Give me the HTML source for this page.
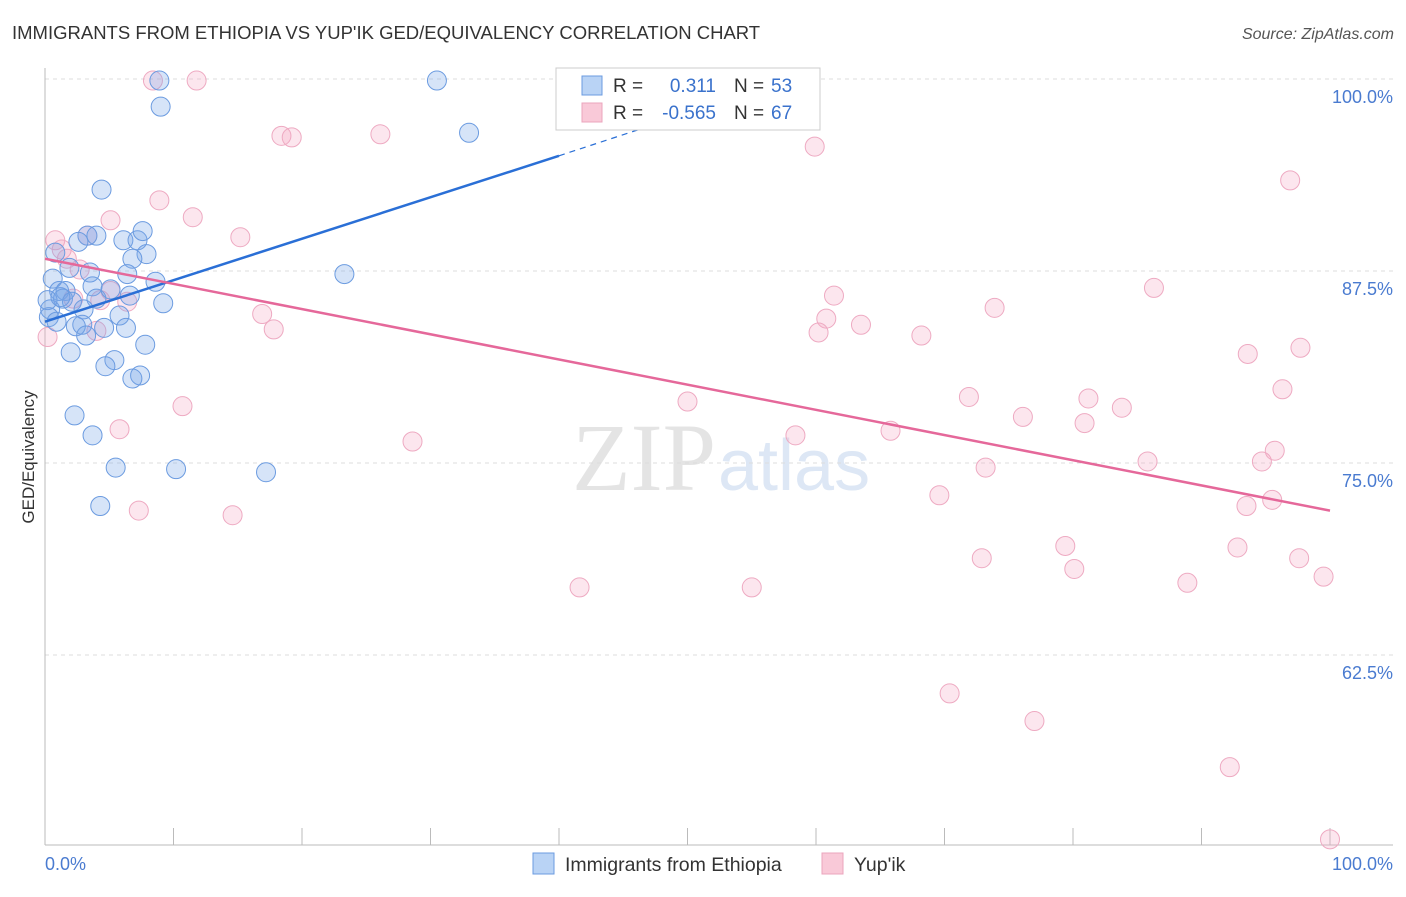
<!DOCTYPE html>
<html><head><meta charset="utf-8"><style>
body{margin:0;background:#fff;font-family:"Liberation Sans",sans-serif;}
</style></head><body>
<svg width="1406" height="892" xmlns="http://www.w3.org/2000/svg" id="svg" font-family="Liberation Sans, sans-serif">
<text x="12" y="39" font-size="18.5" fill="#333">IMMIGRANTS FROM ETHIOPIA VS YUP'IK GED/EQUIVALENCY CORRELATION CHART</text>
<text x="1394" y="39" font-size="16" fill="#555" text-anchor="end" font-style="italic">Source: ZipAtlas.com</text>
<text x="716" y="490" font-size="96" fill="#e4e4e4" text-anchor="end" font-family="Liberation Serif, serif">ZIP</text>
<text x="718" y="490" font-size="72" fill="#dde7f5">atlas</text>
<text transform="translate(34,457) rotate(-90)" font-size="17" fill="#333" text-anchor="middle">GED/Equivalency</text>
<g id="grid"></g><g id="pts"></g><g id="lines"></g>
<g>
<rect x="556" y="68" width="264" height="62" fill="#fff" stroke="#ccc"/>
<rect x="582" y="76" width="20" height="19" fill="#b9d3f5" stroke="#6b9be0"/>
<rect x="582" y="103" width="20" height="19" fill="#f9c9d8" stroke="#eba5bd"/>
<text x="613" y="92" font-size="19" fill="#333">R =</text><text x="716" y="92" font-size="19" fill="#3a72cc" text-anchor="end">0.311</text>
<text x="734" y="92" font-size="19" fill="#333">N =</text><text x="771" y="92" font-size="19" fill="#3a72cc">53</text>
<text x="613" y="119" font-size="19" fill="#333">R =</text><text x="716" y="119" font-size="19" fill="#3a72cc" text-anchor="end">-0.565</text>
<text x="734" y="119" font-size="19" fill="#333">N =</text><text x="771" y="119" font-size="19" fill="#3a72cc">67</text>
</g>
<g>
<rect x="533" y="853" width="21" height="21" fill="#b9d3f5" stroke="#6b9be0"/>
<text x="565" y="871" font-size="19.5" fill="#333">Immigrants from Ethiopia</text>
<rect x="822" y="853" width="21" height="21" fill="#f9c9d8" stroke="#eba5bd"/>
<text x="854" y="871" font-size="19.5" fill="#333">Yup'ik</text>
</g>
</svg>
<script>
const yTicks=[100,87.5,75,62.5];
const yTickLabels=["100.0%","87.5%","75.0%","62.5%"];
const xTickLabels=["0.0%","100.0%"];
const blueX=[8.9,30.5,9.0,33.0,4.4,3.3,4.0,2.6,6.1,7.2,7.6,7.9,0.8,6.8,1.9,3.5,6.4,23.3,0.6,8.6,3.7,1.1,1.6,6.6,1.4,2.1,4.0,9.2,3.0,0.4,5.8,2.9,2.4,4.6,6.3,3.2,7.8,2.0,5.4,4.7,7.4,6.8,2.3,3.7,5.5,10.2,17.2,4.3,0.2,0.3,1.2,5.1,0.9];
const blueY=[99.9,99.9,98.2,96.5,92.8,89.8,89.8,89.4,89.5,89.5,90.1,88.6,88.7,88.3,87.7,87.4,87.3,87.3,87.0,86.8,86.5,86.2,86.2,85.9,85.7,85.5,85.7,85.4,85.0,85.0,84.6,84.0,83.9,83.8,83.8,83.3,82.7,82.2,81.7,81.3,80.7,80.5,78.1,76.8,74.7,74.6,74.4,72.2,85.6,84.5,85.8,86.3,84.2];
const pinkX=[8.4,11.8,18.4,19.2,26.1,59.9,96.9,8.9,11.5,5.1,15.2,0.8,1.3,1.7,3.3,2.7,5.1,4.3,6.4,2.2,16.9,17.8,4.0,0.2,61.4,60.8,60.2,63.5,73.9,68.2,86.3,93.6,97.7,96.3,10.7,5.8,28.6,50.0,58.4,65.8,71.9,76.1,81.2,80.9,83.8,85.8,94.7,95.7,73.2,69.6,93.5,95.5,7.3,14.6,41.6,55.0,72.9,79.4,80.1,88.9,92.8,97.6,99.5,70.4,77.0,92.2,100];
const pinkY=[99.9,99.9,96.3,96.2,96.4,95.6,93.4,92.1,91.0,90.8,89.7,89.5,88.9,88.3,89.8,87.6,86.2,85.6,85.5,85.7,84.7,83.7,83.6,83.2,85.9,84.4,83.5,84.0,85.1,83.3,86.4,82.1,82.5,79.8,78.7,77.2,76.4,79.0,76.8,77.1,79.3,78.0,79.2,77.6,78.6,75.1,75.1,75.8,74.7,72.9,72.2,72.6,71.9,71.6,66.9,66.9,68.8,69.6,68.1,67.2,69.5,68.8,67.6,60.0,58.2,55.2,50.5];
const blueTrend=[[0,84.2],[40,95.0],[52,98.3]];
const pinkTrend=[[0,88.3],[100,71.9]];
const NS="http://www.w3.org/2000/svg";
const X=v=>45+v*12.85, Y=v=>79+(100-v)*15.36;
function mk(tag,attrs,parent){const e=document.createElementNS(NS,tag);for(const k in attrs)e.setAttribute(k,attrs[k]);parent.appendChild(e);return e;}
const grid=document.getElementById('grid');
yTicks.forEach((t,i)=>{
 const l=mk('line',{x1:45,x2:1393,y1:Y(t),y2:Y(t),stroke:'#ddd','stroke-dasharray':'4,4'},grid);
 
 
 const tx=mk('text',{x:1393,y:Y(t)+24,'font-size':18,fill:'#4a7bd0','text-anchor':'end'},grid);
 tx.textContent=yTickLabels[i];
 
 
});
mk('line',{x1:45,x2:45,y1:68,y2:845,stroke:'#bbb'},grid);
mk('line',{x1:45,x2:1393,y1:845,y2:845,stroke:'#bbb'},grid);
for(let i=0;i<=10;i++){const t=mk('line',{x1:X(i*10),x2:X(i*10),y1:828,y2:845,stroke:'#bbb'},grid);
 
 }
[[0,'start',45],[1,'end',1393]].forEach(([i,a,x])=>{const t=mk('text',{x:x,y:870,'font-size':18,fill:'#4a7bd0','text-anchor':a},grid);t.textContent=xTickLabels[i];
 
 });
const pts=document.getElementById('pts');
pinkX.forEach((x,i)=>{const c=mk('circle',{cx:X(x),cy:Y(pinkY[i]),r:9.5,fill:'rgba(244,165,195,0.28)',stroke:'#eeaac2','stroke-width':1},pts);
 
 });
blueX.forEach((x,i)=>{const c=mk('circle',{cx:X(x),cy:Y(blueY[i]),r:9.5,fill:'rgba(120,165,232,0.3)',stroke:'#6b9be0','stroke-width':1},pts);
 
 });
const lines=document.getElementById('lines');
let b=mk('line',{x1:X(blueTrend[0][0]),y1:Y(blueTrend[0][1]),x2:X(blueTrend[1][0]),y2:Y(blueTrend[1][1]),stroke:'#2a6fd6','stroke-width':2.5},lines);


let bd=mk('line',{x1:X(blueTrend[1][0]),y1:Y(blueTrend[1][1]),x2:X(blueTrend[2][0]),y2:Y(blueTrend[2][1]),stroke:'#2a6fd6','stroke-width':1.2,'stroke-dasharray':'6,5'},lines);


let p=mk('line',{x1:X(pinkTrend[0][0]),y1:Y(pinkTrend[0][1]),x2:X(pinkTrend[1][0]),y2:Y(pinkTrend[1][1]),stroke:'#e5689a','stroke-width':2.5},lines);


</script>
</body></html>
